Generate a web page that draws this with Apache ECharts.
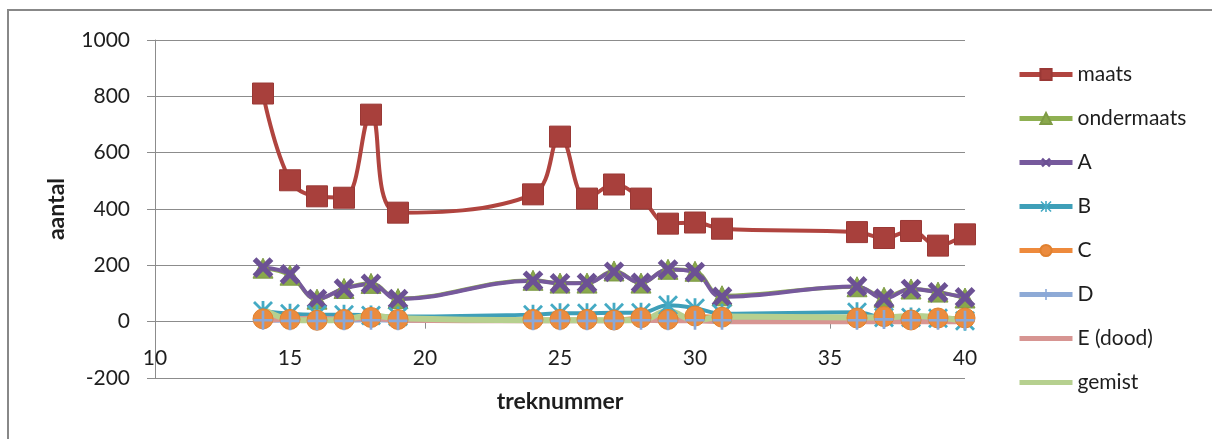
<!DOCTYPE html>
<html>
<head>
<meta charset="utf-8">
<script src="https://cdn.jsdelivr.net/npm/echarts@6/dist/echarts.min.js"></script>
<style>
  html, body { margin: 0; padding: 0; background: #fff; }
  #chart { width: 1212px; height: 439px; }
</style>
</head>
<body>
<div id="chart"></div>
<script>
// Trek numbers along the x axis
const treknummer = [14, 15, 16, 17, 18, 19, 24, 25, 26, 27, 28, 29, 30, 31, 36, 37, 38, 39, 40];

// Counts per category for each trek
const maats      = [810, 502, 445, 440, 735, 387, 452, 657, 437, 487, 437, 348, 352, 330, 318, 297, 322, 270, 310];
const ondermaats = [190, 165, 80, 118, 136, 82, 147, 137, 137, 180, 137, 186, 179, 92, 124, 87, 116, 105, 84];
const seriesA    = [192, 168, 80, 117, 134, 80, 145, 136, 137, 177, 138, 185, 176, 88, 125, 82, 116, 104, 86];
const seriesB    = [38, 28, 25, 25, 22, 18, 25, 30, 30, 32, 32, 58, 48, 28, 33, 15, 15, 12, 3];
const seriesC    = [10, 8, 5, 8, 15, 8, 8, 8, 8, 6, 14, 8, 20, 16, 13, 18, 6, 13, 13];
const seriesD    = [5, 3, 3, 3, 5, 3, 3, 3, 3, 3, 5, 3, 5, 5, 5, 8, 5, 5, 5];
const dood       = [2, 10, 12, 8, 12, 5, 3, 3, 3, 3, 5, 3, 3, 0, 0, 0, 0, 0, 0];
const gemist     = [45, 8, 5, 8, 22, 12, 5, 5, 5, 5, 5, 38, 5, 18, 15, 15, 20, 15, 3];

// Axis ranges
const xTicks = { min: 10, max: 40, interval: 5 };
const yTicks = { min: -200, max: 1000, interval: 200 };

const FONT = 'Lato, "Open Sans", sans-serif';
const TEXT = '#1e1e1e';
const GRID = '#8c8c8c';

// Plot box in pixels
const PLOT = { left: 155, right: 247, top: 40, bottom: 61 };
const plotHeight = 439 - PLOT.top - PLOT.bottom;
// the category axis sits on the value 0 line, lifted up from the plot bottom
const zeroLift = plotHeight * (0 - yTicks.min) / (yTicks.max - yTicks.min);

// Marker outlines built from filled bars
const PLUS = 'path://M4.3,0 L5.7,0 L5.7,4.3 L10,4.3 L10,5.7 L5.7,5.7 L5.7,10 L4.3,10 L4.3,5.7 L0,5.7 L0,4.3 L4.3,4.3 Z';
const CROSS = 'path://M3.9,0 L6.1,0 L6.1,3.9 L10,3.9 L10,6.1 L6.1,6.1 L6.1,10 L3.9,10 L3.9,6.1 L0,6.1 L0,3.9 L3.9,3.9 Z';
const ASTERISK = 'path://M4.3,0 L5.7,0 L5.7,10 L4.3,10 Z ' +
                 'M0,1 L1,0 L10,9 L9,10 Z ' +
                 'M9,0 L10,1 L1,10 L0,9 Z';
// Plain stroke used as legend key for the series without markers
const BAR_KEY = 'path://M0,0 L53,0 L53,5 L0,5 Z';

const pairs = ys => treknummer.map((x, i) => [x, ys[i]]);

function line(name, ys, color, opts) {
  return Object.assign({
    name: name,
    type: 'line',
    data: pairs(ys),
    smooth: 0.4,
    showAllSymbol: true,
    lineStyle: { color: color, width: 4 },
    itemStyle: { color: color },
    emphasis: { disabled: true }
  }, opts || {});
}

const chart = echarts.init(document.getElementById('chart'), null, { renderer: 'canvas' });

chart.setOption({
  animation: false,
  backgroundColor: '#fff',
  textStyle: { fontFamily: FONT, color: TEXT },
  graphic: [{
    type: 'rect',
    shape: { x: 8, y: 10, width: 1230, height: 460 },
    style: { fill: 'none', stroke: '#888', lineWidth: 2 },
    silent: true
  }],
  grid: {
    left: PLOT.left, right: PLOT.right, top: PLOT.top, bottom: PLOT.bottom,
    containLabel: false, outerBoundsMode: 'none'
  },
  legend: {
    orient: 'vertical',
    left: 1012,
    top: 59,
    itemWidth: 53,
    itemHeight: 14,
    itemGap: 23,
    lineStyle: { width: 5 },
    textStyle: { fontFamily: FONT, fontSize: 21, color: TEXT },
    data: [
      'maats', 'ondermaats', 'A', 'B', 'C', 'D',
      { name: 'E (dood)', icon: BAR_KEY },
      { name: 'gemist', icon: BAR_KEY }
    ]
  },
  xAxis: {
    type: 'value',
    min: xTicks.min, max: xTicks.max, interval: xTicks.interval,
    position: 'bottom',
    offset: -zeroLift,
    name: 'treknummer',
    nameLocation: 'middle',
    nameGap: 68,
    nameTextStyle: { fontFamily: FONT, fontSize: 23, fontWeight: 'bold', color: TEXT },
    axisLine: { onZero: false, lineStyle: { color: GRID, width: 1 } },
    axisTick: { show: true, length: 7, lineStyle: { color: GRID } },
    axisLabel: { fontFamily: FONT, fontSize: 21, color: TEXT, margin: 26 },
    splitLine: { show: false }
  },
  yAxis: {
    type: 'value',
    min: yTicks.min, max: yTicks.max, interval: yTicks.interval,
    name: 'aantal',
    nameLocation: 'middle',
    nameGap: 87,
    nameTextStyle: { fontFamily: FONT, fontSize: 23, fontWeight: 'bold', color: TEXT },
    axisLine: { show: true, onZero: false, lineStyle: { color: GRID, width: 1 } },
    axisTick: { show: true, length: 8, lineStyle: { color: GRID } },
    axisLabel: { fontFamily: FONT, fontSize: 21, color: TEXT, margin: 25, formatter: v => String(v) },
    splitLine: { show: true, lineStyle: { color: GRID, width: 1 } }
  },
  series: [
    line('maats', maats, '#B0443F', {
      symbol: 'rect', symbolSize: 21,
      itemStyle: { color: '#A8403C', borderColor: '#9A3835', borderWidth: 1 }
    }),
    line('ondermaats', ondermaats, '#8FB052', {
      symbol: 'triangle', symbolSize: 20,
      itemStyle: { color: '#89A84C', borderColor: '#7E9B45', borderWidth: 1 }
    }),
    line('A', seriesA, '#76599C', {
      symbol: CROSS, symbolSize: 24, symbolRotate: 45,
      itemStyle: { color: '#6C5194' }
    }),
    line('B', seriesB, '#3E9FB8', {
      symbol: ASTERISK, symbolSize: 20,
      itemStyle: { color: '#44AAC4' }
    }),
    line('C', seriesC, '#EE8A3C', {
      symbol: 'circle', symbolSize: 20,
      itemStyle: { color: '#EB8B3E', borderColor: '#E0812F', borderWidth: 1 }
    }),
    line('D', seriesD, '#8EAAD6', {
      symbol: PLUS, symbolSize: 19,
      itemStyle: { color: '#8AA8D8' }
    }),
    line('E (dood)', dood, '#D79592', {
      symbol: 'none', lineStyle: { color: '#D79592', width: 5 }, itemStyle: { color: '#D79592' }
    }),
    line('gemist', gemist, '#B6D08F', {
      symbol: 'none', lineStyle: { color: '#B6D08F', width: 6 }, itemStyle: { color: '#B6D08F' }
    })
  ]
});
</script>
</body>
</html>
